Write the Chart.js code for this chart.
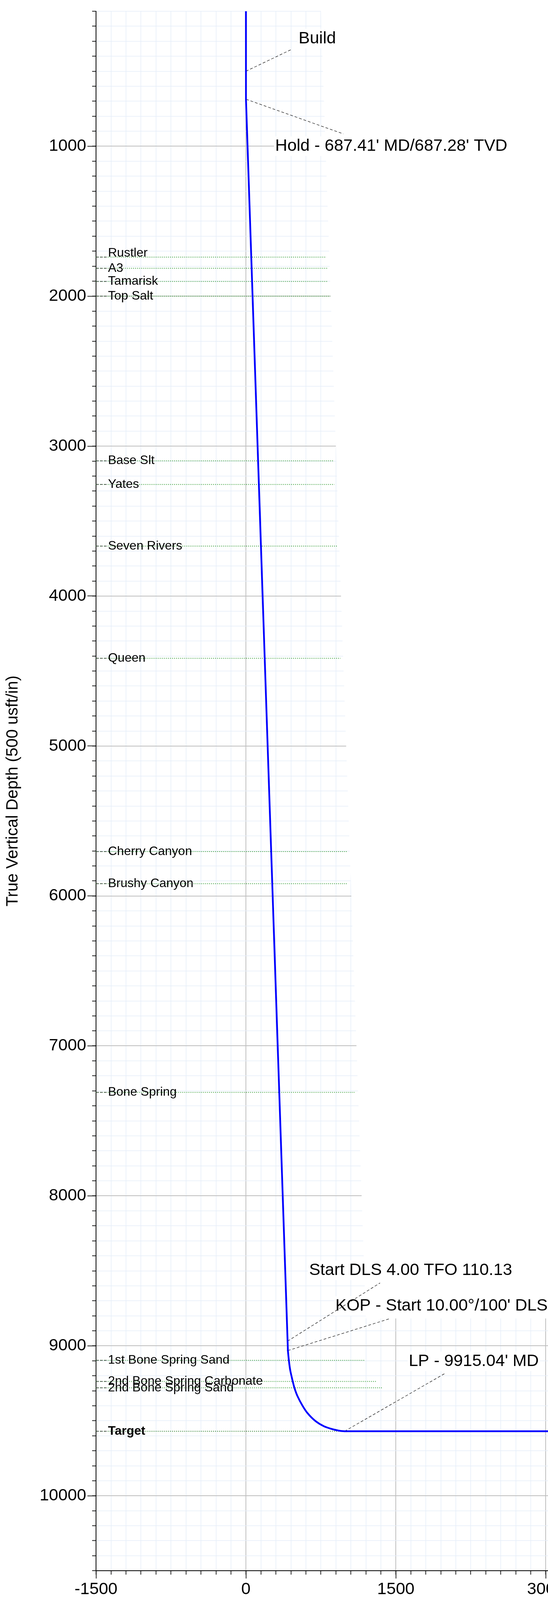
<!DOCTYPE html>
<html><head><meta charset="utf-8">
<script src="https://cdn.jsdelivr.net/npm/chart.js@4.4.1/dist/chart.umd.min.js"></script>
<style>
html,body{margin:0;padding:0;background:#fff;overflow:hidden;width:1404px;height:4147px;}
#wrap{position:absolute;left:0;top:0;width:1600px;height:4147px;}
canvas{display:block;}
</style></head><body>
<div id="wrap"><canvas id="c" width="1600" height="4147"></canvas></div>
<script>
// ---------- data ----------
const formationNames = ["Rustler","A3","Tamarisk","Top Salt","Base Slt","Yates","Seven Rivers","Queen",
  "Cherry Canyon","Brushy Canyon","Bone Spring","1st Bone Spring Sand","2nd Bone Spring Carbonate",
  "2nd Bone Spring Sand","Target"];
const formationTVD = [1740,1814,1902,2000,3098,3256,3667,4415,5704,5918,7310,9097,9238,9280,9570];
const formationLineEndX = [805,812,812,845,875,885,910,945,1015,1015,1085,1193,1300,1362,987];

// well path (vertical section vs TVD)
const pathStraightX   = [0, 0, 1, 417, 420];
const pathStraightTVD = [100, 500, 687, 8969, 9032];
const pathCurveX   = [420, 430, 443, 469, 486, 516, 564, 616, 694, 779, 870, 948, 987];
const pathCurveTVD = [9032, 9099, 9162, 9239, 9282, 9336, 9397, 9449, 9501, 9536, 9557, 9568, 9570];
const pathLateralX   = [987, 3300];
const pathLateralTVD = [9570, 9570];

const annotationTexts = ["Build", "Hold - 687.41' MD/687.28' TVD", "Start DLS 4.00 TFO 110.13",
  "KOP - Start 10.00\u00B0/100' DLS", "LP - 9915.04' MD"];
const annotationPointX   = [0, 2, 417, 420, 987];
const annotationPointTVD = [500, 687, 8969, 9032, 9570];

const xTickLabels = [-1500, 0, 1500, 3000];
const yTickLabels = [1000,2000,3000,4000,5000,6000,7000,8000,9000,10000];
const yTitle = "True Vertical Depth (500 usft/in)";

// ---------- layout (not data) ----------
const leaderEnd = [[464,352],[975,918],[1342,8581],[1430,8821],[1990,9185]]; // data units
const annotationTextPos = [[527,282],[293,1000],[632,8497],[895,8735],[1629,9104]];
const formationLabelX = -1380;
const formationLabelShift = {"Rustler": -10};
const gridMaskEdge = {topX: 750, topTVD: 100, bottomX: 1200, bottomTVD: 8818};

const FONT = '"Liberation Sans", Arial, sans-serif';
Chart.defaults.font.family = FONT;
Chart.defaults.color = '#000';

const toXY = (xs, ys) => xs.map((v, i) => ({x: v, y: ys[i]}));

const datasets = [];
formationNames.forEach((n, i) => {
  const isTarget = n === 'Target';
  datasets.push({
    label: n,
    data: [{x: -1500, y: formationTVD[i]}, {x: formationLineEndX[i], y: formationTVD[i]}],
    showLine: true, pointRadius: 0, borderWidth: 2,
    borderColor: isTarget ? '#2b7d2b' : '#3a9e3a',
    borderDash: [2, 3], order: 5
  });
});
annotationTexts.forEach((t, i) => {
  datasets.push({
    label: 'leader ' + i,
    data: [{x: annotationPointX[i], y: annotationPointTVD[i]}, {x: leaderEnd[i][0], y: leaderEnd[i][1]}],
    showLine: true, pointRadius: 0, borderWidth: 1.3, borderColor: '#222',
    borderDash: [7, 5], order: 4
  });
});
[[pathStraightX, pathStraightTVD, 0], [pathCurveX, pathCurveTVD, 0.3], [pathLateralX, pathLateralTVD, 0]]
  .forEach(([xs, ys, tension], k) => {
    datasets.push({
      label: 'wellpath ' + k,
      data: toXY(xs, ys),
      showLine: true, pointRadius: 0, borderWidth: 4.5, borderColor: '#0000ff',
      borderCapStyle: 'round', borderJoinStyle: 'round',
      tension: tension,
      order: 1
    });
  });

const isMajor = (v, step) => Math.abs(v % step) < 1e-6;

const decorPlugin = {
  id: 'decor',
  beforeDatasetsDraw(chart) {
    const {ctx, chartArea: ca, scales: {x, y}} = chart;
    ctx.save();
    ctx.beginPath();
    ctx.rect(ca.left + 1, ca.top - 2, ca.right - ca.left, ca.bottom - ca.top - 1);
    ctx.clip();
    ctx.fillStyle = '#fff';
    ctx.beginPath();
    ctx.moveTo(x.getPixelForValue(gridMaskEdge.topX), ca.top - 2);
    ctx.lineTo(ca.right + 5, ca.top - 2);
    ctx.lineTo(ca.right + 5, y.getPixelForValue(gridMaskEdge.bottomTVD));
    ctx.lineTo(x.getPixelForValue(gridMaskEdge.bottomX), y.getPixelForValue(gridMaskEdge.bottomTVD));
    ctx.closePath();
    ctx.fill();
    // white boxes behind annotation texts
    ctx.font = '43px ' + FONT;
    annotationTexts.forEach((t, i) => {
      const px = x.getPixelForValue(annotationTextPos[i][0]);
      const py = y.getPixelForValue(annotationTextPos[i][1]);
      const w = ctx.measureText(t).width;
      ctx.fillRect(px - 3, py - 25, w + 6, 50);
    });
    ctx.restore();
  },
  afterDatasetsDraw(chart) {
    const {ctx, chartArea: ca, scales: {x, y}} = chart;
    ctx.save();
    // formation labels
    formationNames.forEach((n, i) => {
      const py = y.getPixelForValue(formationTVD[i]);
      const lx = x.getPixelForValue(formationLabelX);
      ctx.setLineDash([6, 4]);
      ctx.strokeStyle = '#333';
      ctx.lineWidth = 1.5;
      ctx.beginPath();
      ctx.moveTo(ca.left + 1, py);
      ctx.lineTo(lx - 3, py);
      ctx.stroke();
      ctx.setLineDash([]);
      ctx.fillStyle = '#000';
      ctx.font = (n === 'Target' ? 'bold ' : '') + '32px ' + FONT;
      ctx.textBaseline = 'middle';
      ctx.textAlign = 'left';
      ctx.fillText(n, lx, py + (formationLabelShift[n] || 0));
    });
    // annotation texts
    ctx.font = '43px ' + FONT;
    ctx.fillStyle = '#000';
    ctx.textBaseline = 'middle';
    annotationTexts.forEach((t, i) => {
      ctx.fillText(t, x.getPixelForValue(annotationTextPos[i][0]), y.getPixelForValue(annotationTextPos[i][1]));
    });
    ctx.restore();
  }
};

const MAJOR_GRID = '#bfbfbf', MINOR_GRID = '#e6eef9', TICK = '#222';

new Chart(document.getElementById('c'), {
  type: 'scatter',
  data: {datasets},
  options: {
    responsive: false, animation: false, devicePixelRatio: 1,
    layout: {padding: {top: 27, right: 125, left: 0, bottom: 0}},
    plugins: {legend: {display: false}, tooltip: {enabled: false}},
    scales: {
      x: {
        type: 'linear', position: 'bottom', min: -1500, max: 3300, weight: 0,
        ticks: {stepSize: 150, display: false},
        grid: {
          color: c => isMajor(c.tick.value, 1500) ? MAJOR_GRID : MINOR_GRID,
          lineWidth: c => isMajor(c.tick.value, 1500) ? 2 : 1.5,
          tickColor: TICK, tickLength: 10, tickWidth: 2
        },
        border: {color: '#000', width: 2},
        afterFit: s => { s.height = 0; }
      },
      x2: {
        type: 'linear', position: 'bottom', min: -1500, max: 3300, weight: 1,
        afterBuildTicks: s => { s.ticks = xTickLabels.map(v => ({value: v})); },
        ticks: {callback: v => String(v), font: {size: 43}, color: '#000', padding: 2, maxRotation: 0, autoSkip: false},
        grid: {drawOnChartArea: false, tickColor: TICK, tickLength: 20, tickWidth: 2},
        border: {color: '#000', width: 2},
        afterFit: s => { s.height = 126; }
      },
      y: {
        type: 'linear', position: 'left', min: 100, max: 10500, reverse: true, weight: 0,
        ticks: {stepSize: 100, display: false},
        grid: {
          color: c => isMajor(c.tick.value, 1000) ? MAJOR_GRID : MINOR_GRID,
          lineWidth: c => isMajor(c.tick.value, 1000) ? 2 : 1.5,
          tickColor: TICK, tickLength: 10, tickWidth: 2
        },
        border: {color: '#000', width: 2},
        afterFit: s => { s.width = 0; }
      },
      y2: {
        type: 'linear', position: 'left', min: 100, max: 10500, reverse: true, weight: 1,
        afterBuildTicks: s => { s.ticks = yTickLabels.map(v => ({value: v})); },
        ticks: {callback: v => String(v), font: {size: 43}, color: '#000', padding: 3, autoSkip: false},
        grid: {drawOnChartArea: false, tickColor: TICK, tickLength: 22, tickWidth: 2},
        border: {color: '#000', width: 2},
        title: {display: true, text: yTitle, font: {size: 42}, color: '#000', padding: {top: 8, bottom: 0}},
        afterFit: s => { s.width = 246; }
      }
    }
  },
  plugins: [decorPlugin]
});
</script>
</body></html>
